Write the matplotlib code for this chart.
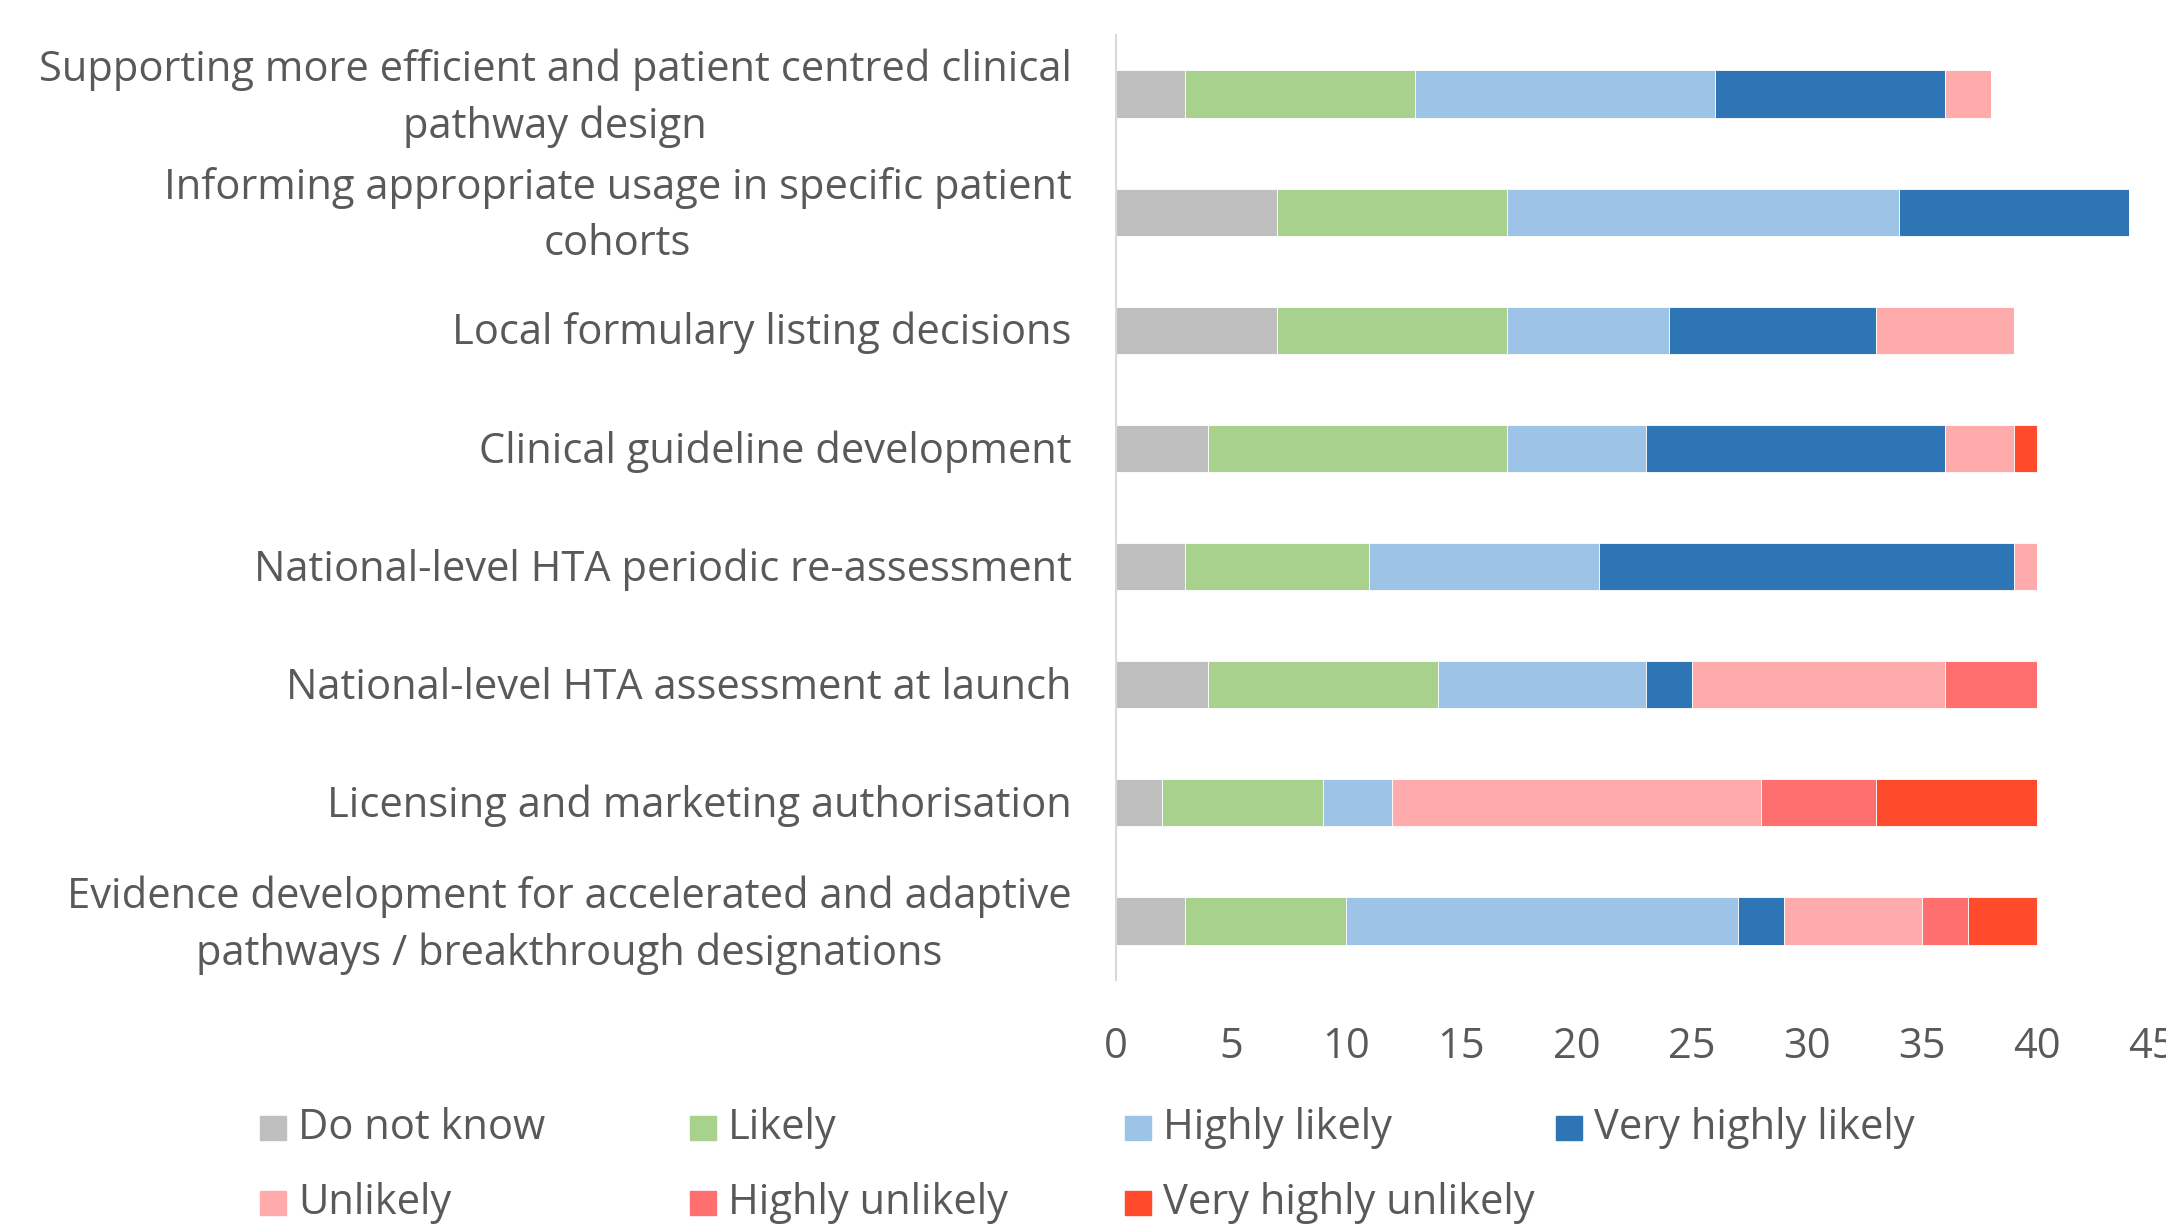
import matplotlib.pyplot as plt
import matplotlib.transforms as mtransforms
import numpy as np
from matplotlib.patches import Rectangle

# categories, bottom to top as drawn on the y axis
categories = [
    "Evidence development for accelerated and adaptive\npathways / breakthrough designations",
    "Licensing and marketing authorisation",
    "National-level HTA assessment at launch",
    "National-level HTA periodic re-assessment",
    "Clinical guideline development",
    "Local formulary listing decisions",
    "Informing appropriate usage in specific patient\ncohorts",
    "Supporting more efficient and patient centred clinical\npathway design",
]

series_names = ["Do not know", "Likely", "Highly likely", "Very highly likely",
                "Unlikely", "Highly unlikely", "Very highly unlikely"]

do_not_know = [3, 2, 4, 3, 4, 7, 7, 3]
likely = [7, 7, 10, 8, 13, 10, 10, 10]
highly_likely = [17, 3, 9, 10, 6, 7, 17, 13]
very_highly_likely = [2, 0, 2, 18, 13, 9, 10, 10]
unlikely = [6, 16, 11, 1, 3, 6, 0, 2]
highly_unlikely = [2, 5, 4, 0, 0, 0, 0, 0]
very_highly_unlikely = [3, 7, 0, 0, 1, 0, 0, 0]

colors = ["#BFBFBF", "#A9D18E", "#9DC3E6", "#2E75B6",
          "#FFABAB", "#FF6F6F", "#FF4A2B"]

text_color = "#595959"
plt.rcParams['font.family'] = ['Open Sans', 'DejaVu Sans']

fig = plt.figure(figsize=(21.66, 12.28), dpi=100)
ax = fig.add_axes([1116 / 2166, 1 - 980 / 1228, (2152 - 1116) / 2166, (980 - 35) / 1228])

data = [do_not_know, likely, highly_likely, very_highly_likely,
        unlikely, highly_unlikely, very_highly_unlikely]
y = np.arange(len(categories))
left = np.zeros(len(categories))
for vals, c in zip(data, colors):
    ax.barh(y, vals, left=left, height=0.4, color=c, edgecolor='white', linewidth=0.6)
    left += np.array(vals)

ax.set_xlim(0, 45)
ax.set_ylim(-0.5, len(categories) - 0.5)
ax.set_xticks(range(0, 46, 5))
ax.set_yticks(y)
ax.set_yticklabels(categories)

ax.tick_params(axis='y', length=0, pad=32, labelsize=30, labelcolor=text_color)
ax.tick_params(axis='x', length=0, pad=33, labelsize=30, labelcolor=text_color)

# two-line labels sit a bit low, nudge them up
for lab in ax.get_yticklabels():
    lab.set_multialignment('center')
    lab.set_linespacing(1.45)
    shift = 6 if '\n' in lab.get_text() else 1.5
    lab.set_transform(lab.get_transform() +
                      mtransforms.ScaledTranslation(0, shift / 72, fig.dpi_scale_trans))

for s in ['top', 'right', 'bottom']:
    ax.spines[s].set_visible(False)
ax.spines['left'].set_color('#D9D9D9')
ax.spines['left'].set_linewidth(1.5)

# legend, laid out in even columns like the original
leg_x = [260, 690, 1125, 1556]
leg_y = [1128, 1203]
order = [[0, 1, 2, 3], [4, 5, 6]]
for r, row in enumerate(order):
    for ci, idx in enumerate(row):
        x0 = leg_x[ci] / 2166
        y0 = 1 - leg_y[r] / 1228
        fig.add_artist(Rectangle((x0, y0 - 12 / 1228), 26 / 2166, 24 / 1228,
                                 transform=fig.transFigure, color=colors[idx]))
        fig.text(x0 + 38 / 2166, y0, series_names[idx], fontsize=30,
                 color=text_color, va='center', ha='left')

fig.savefig("out.png", dpi=100)
